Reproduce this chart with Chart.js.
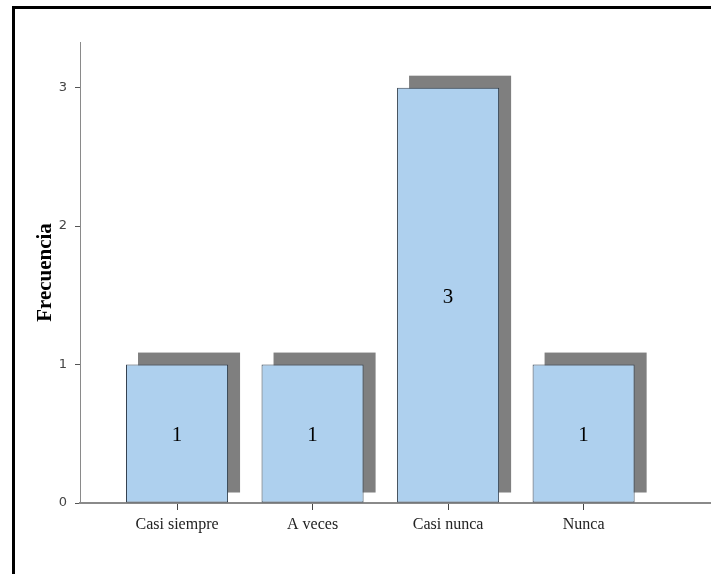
<!DOCTYPE html>
<html lang="es">
<head>
<meta charset="utf-8">
<title>Frecuencia</title>
<script src="https://cdn.jsdelivr.net/npm/chart.js@4/dist/chart.umd.min.js"></script>
<style>
    html, body { margin: 0; padding: 0; background: #fff; overflow: hidden; }
    #frame { position: absolute; left: 12px; top: 6px; width: 800px; height: 700px; border: 3px solid #000; }
    #wrap { position: absolute; left: 0; top: 0; width: 711px; height: 574px; }
</style>
</head>
<body>
<div id="frame"></div>
<div id="wrap"><canvas id="chart" width="711" height="574"></canvas></div>
<script>
// categories and counts
var categorias = ["Casi siempre", "A veces", "Casi nunca", "Nunca"];
var frecuencias = [1, 1, 3, 1];
var yTicks = [0, 1, 2, 3];

// grey drop shadow behind each bar, offset up and right
var shadowPlugin = {
    id: 'shadow',
    beforeDatasetsDraw: function(chart) {
        var ctx = chart.ctx;
        var meta = chart.getDatasetMeta(0);
        ctx.save();
        ctx.fillStyle = '#7f7f7f';
        meta.data.forEach(function(bar) {
            var p = bar.getProps(['x', 'y', 'base', 'width'], true);
            var left = p.x - p.width / 2 + 12;
            var top = p.y - 12;
            ctx.fillRect(left, top, p.width, (p.base - 10) - top);
        });
        ctx.restore();
    }
};

// count written in the middle of each bar
var labelPlugin = {
    id: 'valueLabels',
    afterDatasetsDraw: function(chart) {
        var ctx = chart.ctx;
        var meta = chart.getDatasetMeta(0);
        ctx.save();
        ctx.fillStyle = '#000';
        ctx.font = '21px "Liberation Serif", serif';
        ctx.textAlign = 'center';
        ctx.textBaseline = 'middle';
        meta.data.forEach(function(bar, i) {
            var p = bar.getProps(['x', 'y', 'base'], true);
            ctx.fillText(String(frecuencias[i]), p.x, (p.y + p.base) / 2 + 2);
        });
        ctx.restore();
    }
};

new Chart(document.getElementById('chart'), {
    type: 'bar',
    data: {
        datasets: [{
            data: frecuencias.map(function(v, i) { return { x: i, y: v }; }),
            backgroundColor: '#aed0ee',
            borderColor: '#34414f',
            borderWidth: 1,
            borderSkipped: false,
            categoryPercentage: 1,
            barPercentage: 0.753
        }]
    },
    options: {
        responsive: false,
        animation: false,
        layout: { padding: { top: 42, right: 0, left: 0, bottom: 0 } },
        plugins: {
            legend: { display: false },
            tooltip: { enabled: false }
        },
        scales: {
            x: {
                type: 'linear',
                offset: false,
                min: -0.716,
                max: 3.94,
                afterBuildTicks: function(scale) {
                    scale.ticks = categorias.map(function(c, i) { return { value: i }; });
                },
                afterFit: function(scale) { scale.height = 71; },
                ticks: {
                    includeBounds: false,
                    autoSkip: false,
                    maxRotation: 0,
                    padding: 5,
                    color: '#222',
                    font: { family: '"Liberation Serif", serif', size: 16 },
                    callback: function(v) { return categorias[v]; }
                },
                grid: { offset: false, drawOnChartArea: false, tickLength: 7, color: '#444' },
                border: { color: '#8a8a8a', width: 2 }
            },
            y: {
                min: 0,
                max: 3.33,
                afterBuildTicks: function(scale) {
                    scale.ticks = yTicks.map(function(v) { return { value: v }; });
                },
                afterFit: function(scale) { scale.width = 80; },
                ticks: {
                    includeBounds: false,
                    padding: 8,
                    color: '#444',
                    font: { family: '"DejaVu Sans", sans-serif', size: 13 }
                },
                grid: { drawOnChartArea: false, tickLength: 5, color: '#555' },
                border: { color: '#8a8a8a', width: 1 },
                title: {
                    display: true,
                    text: 'Frecuencia',
                    color: '#000',
                    padding: { top: 33, bottom: 0 },
                    font: { family: '"Liberation Serif", serif', size: 21, weight: 'bold' }
                }
            }
        }
    },
    plugins: [shadowPlugin, labelPlugin]
});
</script>
</body>
</html>
